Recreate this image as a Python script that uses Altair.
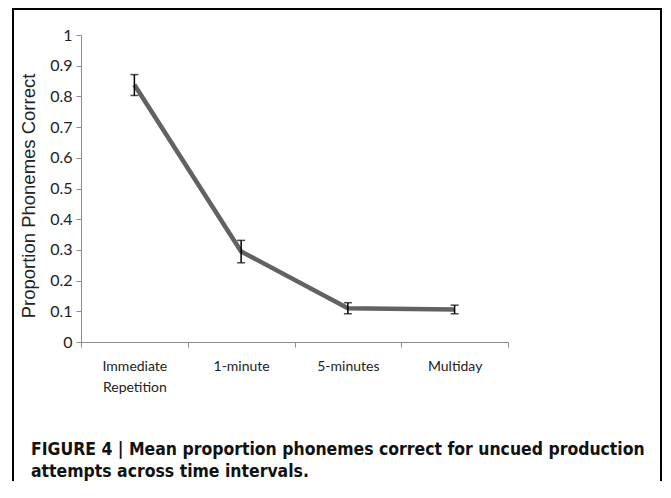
import altair as alt
import pandas as pd

categories = ["Immediate Repetition", "1-minute", "5-minutes", "Multiday"]
means = [0.838, 0.295, 0.110, 0.106]
lower = [0.803, 0.258, 0.092, 0.092]
upper = [0.871, 0.331, 0.128, 0.120]
y_ticks = [0, 0.1, 0.2, 0.3, 0.4, 0.5, 0.6, 0.7, 0.8, 0.9, 1]
caption = [
    "FIGURE 4 | Mean proportion phonemes correct for uncued production",
    "attempts across time intervals.",
]

df = pd.DataFrame({"cat": categories, "mean": means, "lo": lower, "hi": upper})

W, H = 427, 307

xaxis = alt.Axis(
    title=None,
    labelExpr="isString(datum.value) ? split(datum.value, ' ') : ''",
    labelAngle=0,
    labelFont="Lato",
    labelFontSize=14,
    labelColor="#222222",
    labelLineHeight=21,
    labelPadding=12,
    tickBand="extent",
    tickSize=5,
    tickColor="#8c8c8c",
    domainColor="#8c8c8c",
    tickWidth=1,
    domainWidth=1,
)
xscale = alt.Scale(type="band", paddingInner=0, paddingOuter=0)

yaxis = alt.Axis(
    title="Proportion Phonemes Correct",
    values=y_ticks,
    format="~g",
    grid=False,
    labelFont="Lato",
    labelFontSize=16,
    labelColor="#222222",
    labelPadding=4,
    labelOverlap=False,
    tickSize=5,
    tickColor="#8c8c8c",
    domainColor="#8c8c8c",
    titleFont="Liberation Sans",
    titleFontSize=18.5,
    titleFontWeight="normal",
    titleColor="#222222",
    titlePadding=11,
    titleY=160.5,
)
yscale = alt.Scale(domain=[0, 1], nice=False, zero=True)


def xenc():
    return alt.X("cat:N", sort=categories, bandPosition=0.5, scale=xscale, axis=xaxis)


def yenc(field):
    return alt.Y(field, scale=yscale, axis=yaxis)


base = alt.Chart(df)

line = base.mark_line(color="#626262", strokeWidth=4.5).encode(x=xenc(), y=yenc("mean:Q"))

err = base.mark_rule(color="black", strokeWidth=1.5).encode(
    x=xenc(), y=yenc("lo:Q"), y2="hi:Q"
)
cap_lo = base.mark_tick(color="black", thickness=1.5, size=8, orient="horizontal").encode(
    x=xenc(), y=yenc("lo:Q")
)
cap_hi = base.mark_tick(color="black", thickness=1.5, size=8, orient="horizontal").encode(
    x=xenc(), y=yenc("hi:Q")
)

one = pd.DataFrame({"a": [0]})
frame = alt.Chart(one).mark_rect(filled=False, stroke="black", strokeWidth=2).encode(
    x=alt.value(-68), x2=alt.value(580), y=alt.value(-26), y2=alt.value(520)
)

cap_text = alt.Chart(one).mark_text(
    text=caption,
    align="left",
    baseline="alphabetic",
    font="Liberation Sans Narrow, DejaVu Sans Condensed, sans-serif",
    fontSize=17.45,
    fontWeight="bold",
    lineHeight=22,
    color="#111111",
).encode(x=alt.value(-50), y=alt.value(420))

chart = (
    alt.layer(frame, line, err, cap_lo, cap_hi, cap_text)
    .properties(
        width=W,
        height=H,
        autosize=alt.AutoSizeParams(type="none"),
        padding={"left": 73, "top": 27, "right": 155, "bottom": 139},
        background="white",
    )
    .configure_view(strokeOpacity=0)
)

chart.save("out.html", embed_options={"renderer": "svg", "actions": False})
